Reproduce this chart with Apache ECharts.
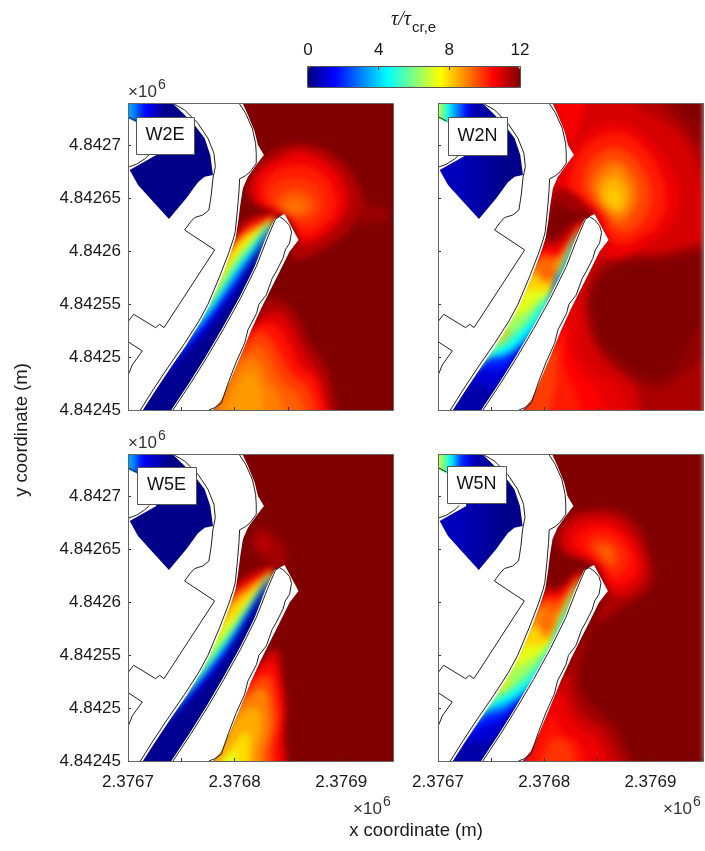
<!DOCTYPE html>
<html><head><meta charset="utf-8">
<style>html,body{margin:0;padding:0;background:#fff}#c{width:705px;height:851px}</style>
<script src="https://cdn.jsdelivr.net/npm/echarts@6/dist/echarts.min.js"></script></head>
<body><div id="c"></div>
<script>
// Axis origin (m) and ticks
const X0 = 2376700, Y0 = 4842450, X_SPAN = 248.6, Y_SPAN = 289.6;
const PANEL_NAMES = ['W2E', 'W2N', 'W5E', 'W5N'];
const JET = ['#000080', '#0000ff', '#0080ff', '#00ffff', '#80ff80', '#ffff00', '#ff8000', '#ff0000', '#800000'];

// Land geometry, metres from the axis origin
const LAND_WEST = [[39,292],[106.3,292],[112.5,278.3],[118.8,262.6],[121.9,250],[127.5,240.6],[120.3,231.2],[112.5,220.1],[107.8,209.1],[105.3,193.4],[103.4,177.7],[100.9,162],[96.3,147.8],[87.5,124.2],[76.6,99.1],[68.1,83.3],[54.7,61.3],[40.6,40.9],[25,17.3],[14,0],[12,-2],[-2,-2],[-2,226],[1.6,226.4],[9.4,212.3],[23.4,196.6],[38.4,180.2],[54.7,199.7],[65.6,214.8],[71.9,220.1],[79.7,221.7],[77.2,240.6],[71.9,256.3],[62.5,268.9],[51.6,280]];
const BREAKWATER = [[39,-2],[40.6,0],[57.2,25.2],[72.8,50.3],[88.4,77],[104.1,105.4],[118.8,135.2],[129.7,163.5],[137.5,180.2],[146.9,184.9],[160,160.4],[151.6,149.4],[142.2,130.5],[134.4,114.8],[125,95.9],[115.6,75.5],[104.7,48.7],[95.3,26.7],[87.5,9.4],[79.7,0],[78,-2]];
const DISC = [[-2,275.8],[14,268.9],[25,256.3],[26.6,240.6],[1.6,226.4],[-2,224]];
const COAST_LINES = [
 [[103.8,290],[110.3,280],[116.6,265.8],[119.7,251.6],[120.3,242.2],[120.3,232.7],[114.7,224.9],[110.3,221.1],[104.7,218],[104.1,206],[102.5,187.1],[100.6,168.3],[98.8,161.3],[94.7,148.8],[85.9,125.8],[75,99.7],[66.6,84],[53.1,62.9],[39,42.5],[23.4,18.9],[11.6,0]],
 [[42.2,0],[58.8,25.2],[74.4,50.3],[90,77],[105.6,105.4],[120.3,135.2],[131.3,163.5],[138.4,180.2],[142.2,182.4],[146.9,179.3],[151.6,173.9],[153.4,167.6],[151.6,157.3],[147.5,151],[145.3,143.1],[139,130.5],[135.3,124.2],[129.7,108.5],[122.8,99.7],[120.6,91.2],[112.5,75.5],[109.4,62.9],[101.6,45.6],[94.4,26.7],[87.5,6.3],[81.3,2.2],[75.9,0]],
 [[42.2,289.3],[53.1,283],[65.6,270.5],[75,256.3],[80.6,242.2],[81.9,229.6],[79.7,218.6],[78.1,202.9],[75.9,188.7],[70.3,184],[62.5,181.5],[58.4,177.1],[53.1,169.8],[81.3,151],[33.8,77.7],[29.7,80.8],[25.9,77.7],[5.3,90.3],[0,83.3]],
 [[0,64.5],[13.4,55.7],[4,42.5],[0.9,34.6],[0,33.7]],
 [[0,229],[7.8,231.8],[15.6,236.8],[20,241]],
 [[0,276.8],[7.8,272.7]]
];

// Stress field isolines: [level, points]. Sea patches are closed shapes.
const SEA_ALL = [[-25,-25],[275,-25],[275,315],[-25,315]];
const BASIN_ALL = [[-25,315],[90,315],[90,170],[-25,170]];
const W2E_SEA = [
 [12, SEA_ALL],
 [11.7, [[217,199],[242,190],[245,179],[217,174]]],
 [11.4, [[122,231],[139,245],[161,251],[186,245],[208,226],[219,203],[217,187],[208,171],[186,153],[161,142],[153,146],[158,162],[148,181],[130,190],[116,197],[111,209]]],
 [10.7, [[123,225],[139,236],[161,244],[183,236],[200,219],[206,197],[198,178],[180,162],[164,157],[158,168],[148,182],[133,189],[120,197],[117,212]]],
 [10.2, [[130,220],[145,229],[164,231],[183,223],[194,206],[194,187],[180,171],[164,165],[153,179],[139,189],[127,197],[125,209]]],
 [9.9, [[139,214],[158,219],[177,212],[184,195],[177,179],[161,175],[148,184],[136,193],[131,204]]],
 [9.5, [[142,201],[158,208],[172,201],[175,190],[164,182],[152,185],[141,192]]],
 [9.2, [[145,193],[155,199],[166,195],[164,187],[153,186]]],
 [11.5, [[123,96],[139,105],[158,90],[170,64],[183,46],[192,20],[192,-20],[70,-20],[95,50]]],
 [10.9, [[127,88],[142,93],[155,77],[167,52],[180,33],[186,14],[186,-20],[70,-20],[95,50]]],
 [10.3, [[123,80],[139,80],[152,61],[161,42],[177,27],[180,-20],[70,-20],[95,45]]],
 [9.8, [[122,74],[133,68],[145,49],[155,33],[170,20],[173,-20],[70,-20],[95,40]]],
 [9.4, [[119,61],[130,55],[139,36],[148,24],[161,11],[164,-20],[70,-20],[95,35]]],
 [9, [[114,49],[125,42],[131,27],[142,14],[145,-20],[75,-20],[96,30]]],
 [8.7, [[116,36],[123,24],[127,11],[123,-20],[90,-20],[100,20]]]
];
const W2E_CHANNEL = [
 [11, [[100,163],[112,179],[126,184],[139,183]]],
 [10.2, [[99,159],[111,173],[123,179],[137,182]]],
 [9, [[97,154],[109,167],[123,175],[137,180]]],
 [7.8, [[94,146],[106,160],[120,170],[136,178]]],
 [6.5, [[86,123],[98,140],[114,159],[135,177]]],
 [5, [[77,101],[89,118],[103,140],[120,160],[134,175]]],
 [3.8, [[69,86],[83,105],[98,127],[116,151],[133,174]]],
 [2.5, [[59,69],[77,91],[92,112],[109,137],[125,157],[133,172]]],
 [1.5, [[52,60],[70,80],[89,104],[106,127],[122,152],[132,170]]],
 [0.8, [[45,49],[67,71],[86,96],[102,118],[117,143],[130,165]]],
 [0.2, [[41,39],[62,61],[81,83],[98,108],[112,134],[127,159]]]
];
const W2E_CORNER = [
 [0.1, BASIN_ALL],
 [0.8, [[-25,315],[33,315],[28,262],[-25,262]]],
 [1.5, [[-25,315],[23,315],[20,262],[-25,262]]],
 [2.5, [[-25,315],[14,315],[12,262],[-25,262]]],
 [3.5, [[-25,315],[6,315],[5,262],[-25,262]]]
];

const W2N_SEA = [
 [11, SEA_ALL],
 [11.4, [[150,315],[190,285],[225,262],[243,232],[255,200],[275,190],[275,315]]],
 [11.8, [[195,315],[215,285],[233,265],[250,245],[275,235],[275,315]]],
 [12, [[215,315],[228,285],[250,268],[275,260],[275,315]]],
 [10.6, [[108,315],[112,278],[123,253],[133,265],[139,315]]],
 [11.5, [[275,159],[251,159],[211,149],[173,146],[150,137],[139,112],[139,90],[145,65],[161,42],[186,20],[195,-20],[275,-20]]],
 [11.8, [[275,153],[251,153],[211,145],[175,142],[155,133],[142,110],[142,90],[149,65],[165,46],[188,27],[210,22],[233,36],[251,48],[275,48]]],
 [12, [[275,148],[251,148],[211,140],[176,138],[158,129],[145,108],[146,90],[153,66],[169,49],[189,33],[208,31],[227,46],[238,71],[251,80],[275,80]]],
 [10.7, [[114,219],[130,250],[148,267],[170,272],[195,259],[217,231],[227,200],[217,171],[195,156],[170,143],[158,146],[159,162],[148,184],[133,197],[117,206]]],
 [10.2, [[123,215],[134,244],[152,258],[173,261],[192,249],[208,225],[214,200],[208,178],[189,162],[170,156],[159,165],[152,184],[136,200],[125,208]]],
 [9.7, [[136,215],[144,236],[161,247],[180,242],[195,222],[200,200],[192,178],[177,167],[164,170],[155,186],[141,200]]],
 [9.2, [[144,215],[152,229],[166,236],[180,226],[188,206],[183,187],[172,176],[161,182],[150,195]]],
 [8.8, [[149,209],[156,222],[169,228],[178,215],[181,200],[175,186],[166,184],[155,193]]],
 [8.4, [[153,207],[162,218],[173,214],[177,198],[170,187],[157,194]]],
 [8.1, [[159,203],[164,209],[170,203],[169,193],[162,195]]],
 [11.6, [[106,202],[117,209],[130,202],[139,193],[147,185],[139,179],[127,173],[114,159],[100,156],[98,171]]],
 [12, [[105,187],[112,197],[120,190],[130,187],[142,187],[147,184],[137,180],[125,176],[116,168],[108,162],[100,160],[100,171]]],
 [10.8, [[128,102],[133,83],[133,58],[148,36],[170,20],[180,-20],[70,-20],[95,50]]],
 [10.5, [[120,80],[123,58],[133,36],[148,20],[161,-20],[75,-20],[95,45]]],
 [10.2, [[117,71],[117,49],[123,30],[130,14],[133,-20],[80,-20],[95,40]]],
 [9.8, [[113,58],[111,42],[111,27],[108,14],[98,-20],[80,-20],[95,40]]]
];
const W2N_CHANNEL = [
 [11, [[100,157],[112,158],[125,171],[137,179]]],
 [10.5, [[98,151],[112,152],[127,167],[137,177]]],
 [9.6, [[97,146],[112,146],[123,159],[136,175]]],
 [8.8, [[95,141],[109,140],[120,154],[134,174]]],
 [8, [[89,127],[102,119],[112,129],[123,151],[133,172]]],
 [7.2, [[81,112],[95,112],[108,116],[117,137],[130,163],[133,171]]],
 [6.3, [[70,87],[83,93],[95,105],[106,112],[114,129],[127,157],[132,170]]],
 [5.4, [[52,57],[67,72],[80,80],[92,96],[105,108],[112,126],[125,156],[132,168]]],
 [4.4, [[47,50],[67,63],[84,80],[100,99],[110,120],[123,153],[131,168]]],
 [3, [[45,47],[67,55],[86,72],[102,93],[113,118],[130,167]]],
 [1.8, [[44,46],[61,49],[81,64],[97,83],[108,105],[112,130]]],
 [1, [[39,38],[58,38],[75,52],[89,71],[100,83]]],
 [0.5, [[33,27],[48,20],[64,35],[78,55]]]
];
const W2N_SPOTS = [
 [9.3, [[95,137],[102,141],[108,137],[108,127],[100,123],[95,129]]],
 [8.3, [[56,61],[62,72],[67,77],[67,72],[59,63]]]
];
const W2N_CORNER = [
 [0.1, BASIN_ALL],
 [0.3, [[-25,315],[58,315],[58,200],[48,170],[20,170],[-25,170]]],
 [0.5, [[-25,315],[44,315],[42,200],[34,170],[20,170],[-25,170]]],
 [0.7, [[-25,315],[30,315],[26,200],[20,170],[-25,170]]],
 [1, [[-25,315],[36,315],[30,262],[-25,262]]],
 [1.8, [[-25,315],[29,315],[26,262],[-25,262]]],
 [3, [[-25,315],[24,315],[21,262],[-25,262]]],
 [4.4, [[-25,315],[15,315],[13,262],[-25,262]]],
 [5.5, [[-25,315],[9,315],[8,262],[-25,262]]],
 [6.8, [[-25,315],[3,315],[3,262],[-25,262]]]
];

const W5E_SEA = [
 [12, SEA_ALL],
 [11.6, [[116,209],[123,220],[136,214],[148,200],[147,184],[133,187],[120,197]]],
 [11.3, [[119,207],[127,214],[134,204],[131,195]]],
 [11, [[127,96],[140,105],[144,83],[148,55],[147,27],[144,-20],[70,-20],[95,50]]],
 [10.4, [[123,88],[136,93],[142,74],[145,49],[143,20],[139,-20],[70,-20],[95,50]]],
 [9.7, [[121,77],[133,80],[138,61],[141,39],[136,14],[133,-20],[70,-20],[95,45]]],
 [9, [[117,64],[128,68],[133,49],[133,27],[128,9],[125,-20],[70,-20],[95,40]]],
 [8.5, [[112,49],[122,49],[125,30],[120,11],[116,-20],[75,-20],[95,30]]],
 [7.9, [[102,20],[112,27],[114,14],[108,-20],[80,-20]]],
 [7.2, [[92,6],[102,9],[100,-20],[80,-20]]]
];
const W5E_CHANNEL = [
 [11, [[100,165],[114,176],[127,182],[137,182]]],
 [10, [[99,159],[112,168],[125,176],[137,180]]],
 [9, [[97,153],[109,162],[123,172],[136,178]]],
 [8, [[94,143],[106,154],[122,167],[136,177]]],
 [7, [[86,123],[100,137],[116,156],[135,176]]],
 [6, [[78,102],[92,118],[108,140],[123,162],[134,175]]],
 [5, [[69,83],[84,105],[100,127],[117,152],[134,174]]],
 [3.8, [[62,72],[80,96],[95,116],[112,143],[133,172]]],
 [2.6, [[56,63],[75,86],[92,108],[109,135],[132,170]]],
 [1.5, [[52,57],[70,77],[89,101],[106,127],[131,168]]],
 [0.7, [[44,46],[66,69],[86,94],[102,118],[130,165]]],
 [0.2, [[39,38],[62,61],[81,83],[97,108],[127,159]]]
];
const W5E_CORNER = [
 [0.1, BASIN_ALL],
 [0.8, [[-25,315],[35,315],[30,262],[-25,262]]],
 [1.5, [[-25,315],[20,315],[18,262],[-25,262]]],
 [2.5, [[-25,315],[12,315],[10,262],[-25,262]]],
 [3.5, [[-25,315],[6,315],[5,262],[-25,262]]]
];

const W5N_SEA = [
 [12, SEA_ALL],
 [11.5, [[111,212],[123,231],[142,237],[167,237],[189,222],[200,193],[203,171],[192,156],[170,143],[158,134],[148,130],[155,149],[158,163],[147,185],[133,190],[117,197]]],
 [10.9, [[117,212],[130,228],[145,231],[166,229],[183,215],[194,193],[195,174],[183,159],[167,156],[158,165],[148,184],[133,192],[120,199]]],
 [10.4, [[127,209],[139,220],[155,223],[173,214],[186,195],[188,178],[173,165],[162,168],[152,186],[136,195]]],
 [10.1, [[138,206],[148,215],[163,214],[177,201],[180,186],[169,173],[158,181],[145,195]]],
 [9.7, [[145,203],[155,208],[167,201],[170,189],[163,182],[152,192]]],
 [9.4, [[152,199],[158,203],[164,197],[162,189],[155,193]]],
 [11.6, [[148,130],[139,108],[133,83],[137,64],[152,46],[170,27],[180,-20],[70,-20],[95,50]]],
 [11.1, [[123,83],[127,61],[139,42],[158,27],[172,-20],[70,-20],[95,45]]],
 [10.7, [[117,64],[123,46],[133,33],[152,17],[158,-20],[75,-20],[95,40]]],
 [10.3, [[109,42],[116,27],[130,20],[138,5],[139,-20],[80,-20],[98,30]]],
 [9.9, [[108,20],[120,20],[128,6],[127,-20],[90,-20],[103,14]]]
];
const W5N_CHANNEL = [
 [11, [[100,162],[112,162],[125,173],[137,180]]],
 [10.3, [[99,156],[112,157],[127,169],[136,178]]],
 [9.5, [[98,151],[112,151],[125,164],[135,175]]],
 [8.8, [[95,143],[111,140],[123,157],[135,174]]],
 [8, [[89,127],[102,116],[112,130],[123,154],[133,172]]],
 [7.2, [[81,108],[95,108],[108,116],[116,137],[132,170]]],
 [6.4, [[70,86],[83,93],[95,101],[106,112],[114,130],[132,168]]],
 [5.4, [[52,57],[67,69],[81,80],[94,93],[105,107],[112,126],[131,168]]],
 [4.4, [[45,49],[67,63],[84,75],[100,96],[110,118],[123,151]]],
 [3, [[44,46],[65,55],[86,69],[102,88],[113,112]]],
 [1.8, [[41,41],[61,47],[81,63],[97,80],[108,101]]],
 [1, [[33,28],[58,39],[75,53],[89,69],[100,83]]],
 [0.5, [[28,17],[47,20],[64,36],[78,55]]]
];
const W5N_SPOTS = [
 [9.2, [[97,137],[103,141],[109,137],[108,126],[102,121],[96,129]]],
 [7.8, [[58,64],[62,72],[67,77],[67,72],[60,64]]]
];
const W5N_CORNER = [
 [0.1, BASIN_ALL],
 [0.3, [[-25,315],[58,315],[58,200],[48,170],[20,170],[-25,170]]],
 [0.5, [[-25,315],[44,315],[42,200],[34,170],[20,170],[-25,170]]],
 [0.7, [[-25,315],[30,315],[26,200],[20,170],[-25,170]]],
 [1, [[-25,315],[36,315],[30,262],[-25,262]]],
 [1.8, [[-25,315],[30,315],[27,262],[-25,262]]],
 [3, [[-25,315],[22,315],[19,262],[-25,262]]],
 [4.4, [[-25,315],[17,315],[15,262],[-25,262]]],
 [5.5, [[-25,315],[10,315],[9,262],[-25,262]]],
 [6.8, [[-25,315],[5,315],[4,262],[-25,262]]]
];

// ---- assemble ----
function field(sea, channel, spots, corner) {
  const items = [];
  sea.forEach(b => items.push({soft: b[1].length > 4, level: b[0], pts: b[1]}));
  channel.forEach(b => items.push({soft: true, level: b[0], pts: [[-10,-20], ...b[1], [65,-20]]}));
  spots.forEach(b => items.push({soft: true, level: b[0], pts: b[1]}));
  corner.forEach(b => items.push({soft: false, level: b[0], pts: b[1]}));
  return items;
}
const FIELDS = [
  field(W2E_SEA, W2E_CHANNEL, [], W2E_CORNER),
  field(W2N_SEA, W2N_CHANNEL, W2N_SPOTS, W2N_CORNER),
  field(W5E_SEA, W5E_CHANNEL, [], W5E_CORNER),
  field(W5N_SEA, W5N_CHANNEL, W5N_SPOTS, W5N_CORNER)
];
const OVERLAY = [{mask: 1, pts: LAND_WEST}, {mask: 1, pts: BREAKWATER}, {mask: 1, pts: DISC}].concat(COAST_LINES.map(l => ({mask: 0, pts: l})));
const GRIDS = [[128,103],[438,103],[128,454],[438,454]];
const W = 265, H = 307;
const FONT = '"Liberation Sans", Arial, sans-serif';
const TXT = '#1a1a1a';
const toPx = (api, pts) => pts.map(p => api.coord([X0 + p[0], Y0 + p[1]]));

const grid = [], xAxis = [], yAxis = [], series = [], graphic = [];
GRIDS.forEach((g, i) => {
  grid.push({left: g[0], top: g[1], width: W, height: H});
  xAxis.push({type: 'value', gridIndex: i, min: X0, max: X0 + X_SPAN, interval: 50, z: 5, scale: true,
    axisLine: {show: false}, splitLine: {show: false},
    axisTick: {show: true, inside: true, length: 3, lineStyle: {color: '#333', width: 1}},
    axisLabel: {show: i >= 2, margin: 13, fontFamily: FONT, fontSize: 17, color: TXT, hideOverlap: false,
      formatter: v => v % 100 === 0 ? (v / 1e6).toFixed(4) : ''}});
  yAxis.push({type: 'value', gridIndex: i, min: Y0, max: Y0 + Y_SPAN, interval: 50, z: 5, scale: true,
    axisLine: {show: false}, splitLine: {show: false},
    axisTick: {show: true, inside: true, length: 3, lineStyle: {color: '#333', width: 1}},
    axisLabel: {show: i % 2 === 0, margin: 7, fontFamily: FONT, fontSize: 17, color: TXT, hideOverlap: false,
      formatter: v => v % 50 === 0 ? String(v / 1e6) : ''}});
  const items = FIELDS[i];
  series.push({type: 'custom', xAxisIndex: i, yAxisIndex: i, zlevel: -1, clip: false, silent: true, animation: false,
    renderItem(params, api) {
      const it = items[api.value(1)];
      const shape = {points: toPx(api, it.pts)};
      if (it.soft) shape.smooth = 0.4;
      return {type: 'polygon', shape, style: {fill: api.visual('color')}, silent: true};
    },
    data: items.map((it, j) => [it.level, j])});
  series.push({type: 'custom', xAxisIndex: i, yAxisIndex: i, z: 3, clip: true, silent: true, animation: false,
    renderItem(params, api) {
      const it = OVERLAY[api.value(0)];
      const points = toPx(api, it.pts);
      return it.mask
        ? {type: 'polygon', shape: {points}, style: {fill: '#fff'}, silent: true}
        : {type: 'polyline', shape: {points}, style: {fill: null, stroke: '#222', lineWidth: 1}, silent: true};
    },
    data: OVERLAY.map((it, j) => [j, j])});
  graphic.push({type: 'rect', z: 100, silent: true, shape: {x: g[0] + .5, y: g[1] + .5, width: W, height: H}, style: {fill: null, stroke: '#666', lineWidth: 1}});
});
// colour bar axis
grid.push({left: 308, top: 67, width: 212, height: 21});
xAxis.push({type: 'value', gridIndex: 4, position: 'top', min: 0, max: 12, interval: 4, z: 10,
  axisLine: {show: false, onZero: false}, splitLine: {show: false},
  axisTick: {show: true, inside: true, length: 3, lineStyle: {color: '#333'}},
  axisLabel: {margin: 8, fontFamily: FONT, fontSize: 17, color: TXT}});
yAxis.push({type: 'value', gridIndex: 4, min: 0, max: 1, show: false});
graphic.push({type: 'rect', z: 100, silent: true, shape: {x: 307.5, y: 66.5, width: 213, height: 21}, style: {fill: null, stroke: '#555', lineWidth: 1}});

// panel name boxes
const BOXES = [[136,117,58,37],[448,117,59,38],[137,467,59,37],[447,466,59,37]];
BOXES.forEach((b, i) => {
  graphic.push({type: 'rect', z: 110, silent: true, shape: {x: b[0] + .5, y: b[1] + .5, width: b[2], height: b[3]}, style: {fill: '#fff', stroke: '#555', lineWidth: 1}});
  graphic.push({type: 'text', z: 111, silent: true, x: b[0] + b[2] / 2, y: b[1] + b[3] / 2, style: {text: PANEL_NAMES[i], fill: '#111', font: '18px ' + FONT, textAlign: 'center', textVerticalAlign: 'middle'}});
});
// multipliers
function times(x, y) {
  graphic.push({type: 'text', z: 111, silent: true, x, y, style: {text: '×10', fill: '#333', font: '17px ' + FONT, textAlign: 'left', textVerticalAlign: 'middle'}});
  graphic.push({type: 'text', z: 111, silent: true, x: x + 30, y: y - 7, style: {text: '6', fill: '#333', font: '14px ' + FONT, textAlign: 'left', textVerticalAlign: 'middle'}});
}
times(128, 92); times(128, 443); times(353, 809); times(663, 809);
// titles
graphic.push({type: 'text', silent: true, x: 416, y: 831, style: {text: 'x coordinate (m)', fill: TXT, font: '18.5px ' + FONT, textAlign: 'center', textVerticalAlign: 'middle'}});
graphic.push({type: 'text', silent: true, x: 22, y: 430, rotation: Math.PI / 2, style: {text: 'y coordinate (m)', fill: TXT, font: '18.5px ' + FONT, textAlign: 'center', textVerticalAlign: 'middle'}});
graphic.push({type: 'text', silent: true, x: 391, y: 20, style: {text: 'τ/τ', fill: TXT, font: 'italic 20px "Liberation Serif", serif', textAlign: 'left', textVerticalAlign: 'middle'}});
graphic.push({type: 'text', silent: true, x: 412, y: 28, style: {text: 'cr,e', fill: TXT, font: '15px ' + FONT, textAlign: 'left', textVerticalAlign: 'middle'}});

const chart = echarts.init(document.getElementById('c'), null, {renderer: 'canvas'});
chart.setOption({
  animation: false, tooltip: {show: false},
  grid, xAxis, yAxis, series, graphic,
  visualMap: {type: 'continuous', min: 0, max: 12, seriesIndex: [0,2,4,6], dimension: 0, orient: 'horizontal',
    left: 308, top: 67, itemWidth: 21, itemHeight: 212, padding: 0, calculable: false, hoverLink: false, text: null,
    inRange: {color: JET}}
});
// soften the stress field layer and keep it inside the four plot frames
const fieldCanvas = chart.getZr().painter.getLayer(-1).dom;
fieldCanvas.style.filter = 'blur(3px)';
fieldCanvas.style.clipPath = "path('" + GRIDS.map(g => 'M' + g[0] + ' ' + g[1] + 'h' + W + 'v' + H + 'h-' + W + 'z').join(' ') + "')";
</script></body></html>
